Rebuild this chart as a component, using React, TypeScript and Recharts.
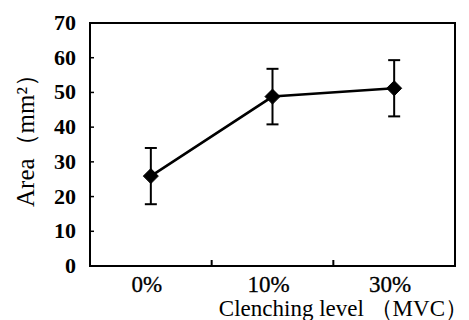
import React from 'react';
import { LineChart, Line, XAxis, YAxis, ErrorBar, ReferenceArea } from 'recharts';

const categories = ['0%', '10%', '30%'];
const means = [25.9, 48.8, 51.2];
const errors = [8.1, 8.0, 8.1];
const yTicks = [0, 10, 20, 30, 40, 50, 60, 70];

const data = categories.map((c, i) => ({ pos: i + 0.5, cat: c, mean: means[i], err: errors[i] }));
const xTicks = [0.5, 1, 1.5, 2, 2.5];

const FONT = '"Liberation Serif", "Times New Roman", serif';

const XTick = (props: any) => {
  const { x, y, payload } = props;
  const v = payload.value;
  if (Number.isInteger(v)) {
    return <line x1={x} y1={y} x2={x} y2={y - 6} stroke="#000" strokeWidth={2} />;
  }
  const label = categories[Math.floor(v)];
  return (
    <text x={x - 4} y={y + 26} textAnchor="middle" fontFamily={FONT} fontSize={23} fill="#000" stroke="#000" strokeWidth={0.3}>
      {label}
    </text>
  );
};

const YTick = (props: any) => {
  const { x, y, payload } = props;
  return (
    <g>
      <line x1={x} y1={y} x2={x + 4} y2={y} stroke="#000" strokeWidth={1.5} />
      <text x={x - 14} y={y + 7} textAnchor="end" fontFamily={FONT} fontWeight="bold" fontSize={22} fill="#000">
        {payload.value}
      </text>
    </g>
  );
};

const Diamond = (props: any) => {
  const { cx, cy, index } = props;
  const r = 7.5;
  return (
    <polygon
      key={`d-${index}`}
      points={`${cx},${cy - r} ${cx + r},${cy} ${cx},${cy + r} ${cx - r},${cy}`}
      fill="#000"
      stroke="#000"
    />
  );
};

const YLabel = (props: any) => {
  const vb = props.viewBox || {};
  const cx = 25;
  const cy = vb.y + vb.height / 2 - 10;
  return (
    <text
      x={cx}
      y={cy}
      transform={`rotate(-90, ${cx}, ${cy})`}
      textAnchor="middle"
      dominantBaseline="central"
      fontFamily={FONT}
      fontSize={25}
      fill="#000"
    >
      Area（mm²）
    </text>
  );
};

const XLabel = (props: any) => {
  const vb = props.viewBox || {};
  return (
    <text
      x={vb.x + vb.width + 13}
      y={316}
      textAnchor="end"
      fontFamily={FONT}
      fontSize={23}
      fill="#000"
    >
      Clenching level （MVC）
    </text>
  );
};

export default function App() {
  return (
    <div style={{ position: 'absolute', left: 0, top: 0, width: 469, height: 320, background: '#fff' }}>
      <LineChart width={469} height={320} data={data} margin={{ top: 23, right: 14, bottom: 0, left: 0 }}>
        <XAxis
          dataKey="pos"
          type="number"
          domain={[0, 3]}
          ticks={xTicks}
          tick={<XTick />}
          tickLine={false}
          axisLine={false}
          tickSize={0}
          tickMargin={0}
          height={54}
          interval={0}
          label={{ content: <XLabel /> } as any}
        />
        <YAxis
          type="number"
          domain={[0, 70]}
          ticks={yTicks}
          tick={<YTick />}
          tickLine={false}
          axisLine={false}
          tickSize={0}
          tickMargin={0}
          width={90}
          interval={0}
          label={{ content: <YLabel /> } as any}
        />
        <ReferenceArea x1={0} x2={3} y1={0} y2={70} fill="none" fillOpacity={0} stroke="#000" strokeWidth={2} />
        <Line
          dataKey="mean"
          stroke="#000"
          strokeWidth={2.5}
          dot={<Diamond />}
          activeDot={false}
          isAnimationActive={false}
        >
          <ErrorBar dataKey="err" direction="y" width={6} stroke="#000" strokeWidth={2} />
        </Line>
      </LineChart>
    </div>
  );
}
